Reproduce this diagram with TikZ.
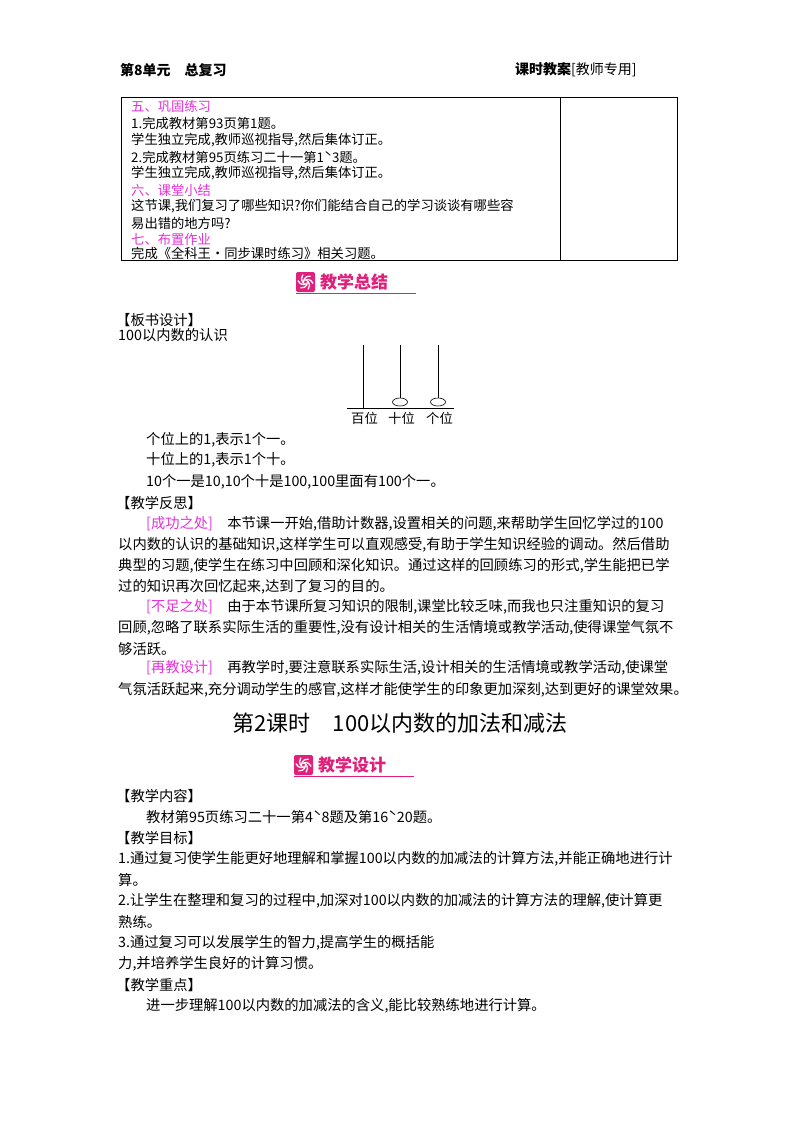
\documentclass[tikz,border=0pt]{standalone}
\usepackage{fontspec}
\newfontfamily\cjk{Noto Sans CJK SC}
\setmainfont{Noto Sans CJK SC}
\definecolor{mag}{HTML}{E632D8}
\definecolor{pk}{HTML}{E0207A}
\tikzset{
 t/.style={anchor=west,inner sep=0,font=\cjk\fontsize{14.3}{15}\selectfont},
 ts/.style={anchor=west,inner sep=0,font=\cjk\fontsize{13.3}{14}\selectfont},
 hd/.style={anchor=west,inner sep=0,font=\cjk\bfseries\fontsize{14}{15}\selectfont},
 ban/.style={anchor=west,inner sep=0,font=\cjk\bfseries\fontsize{17}{18}\selectfont,text=pk},
}
\newcommand{\mybanner}[3]{%
 \fill[pk,rounded corners=2pt] (#1,#2-10) rectangle ++(19,20);
 \foreach \a in {0,60,...,300}{\draw[white,line width=1.3pt] ($(#1+9.5,#2)+(\a:2)$) arc[start angle=\a,end angle=\a+100,radius=6];}
 \node[ban] at (#1+24,#2) {#3};
 \draw[pk,line width=0.6pt] (#1,#2+11) -- (#1+120,#2+11);
}
\usetikzlibrary{calc}
\begin{document}
\begin{tikzpicture}[x=1pt,y=-1pt]
\useasboundingbox[fill=white] (0,0) rectangle (800,1132);
% header
\node[hd] (h1) at (120,70) {第8单元\quad 总复习};
\node[hd] (h2) at (515,70) {课时教案\textmd{[教师专用]}};
% table
\draw[line width=0.8pt] (121,97) rectangle (677,260);
\draw[line width=0.8pt] (560,97) -- (560,260);
\node[ts,text=mag] at (131,106) {五、巩固练习};
\node[ts] at (131,123) {1.完成教材第93页第1题。};
\node[ts] at (131,140) {学生独立完成,教师巡视指导,然后集体订正。};
\node[ts] at (131,157) {2.完成教材第95页练习二十一第1ˋ3题。};
\node[ts] at (131,173) {学生独立完成,教师巡视指导,然后集体订正。};
\node[ts,text=mag] at (131,190) {六、课堂小结};
\node[ts] at (131,206) {这节课,我们复习了哪些知识?你们能结合自己的学习谈谈有哪些容};
\node[ts] at (131,223) {易出错的地方吗?};
\node[ts,text=mag] at (131,239) {七、布置作业};
\node[ts] at (131,253) {完成《全科王·同步课时练习》相关习题。};
% banner 1
\mybanner{296}{282}{教学总结}
\node[t] at (116,320) {【板书设计】};
\node[t] at (118,335) {100以内数的认识};
% abacus
\coordinate (b1) at (347,408); \coordinate (b2) at (454,408);
\draw[line width=0.6pt] (b1) -- (b2);
\draw[line width=0.6pt] (363,345) -- (363,408);
\draw[line width=0.6pt] (400,345) -- (400,398);
\draw[line width=0.6pt] (438,345) -- (438,398);
\draw[line width=0.6pt] (400,402) ellipse[x radius=7.5,y radius=4];
\draw[line width=0.6pt] (438,402) ellipse[x radius=7.5,y radius=4];
\node[ts] at (351,418) {百位};
\node[ts] at (388,418) {十位};
\node[ts] at (426,418) {个位};
% body
\node[t] at (146,440) {个位上的1,表示1个一。};
\node[t] at (146,460) {十位上的1,表示1个十。};
\node[t] at (146,482) {10个一是10,10个十是100,100里面有100个一。};
\node[t] at (116,503) {【教学反思】};
\node[t] at (146,524) {\textcolor{mag}{[成功之处]}\quad 本节课一开始,借助计数器,设置相关的问题,来帮助学生回忆学过的100};
\node[t] at (118,545) {以内数的认识的基础知识,这样学生可以直观感受,有助于学生知识经验的调动。然后借助};
\node[t] at (118,566) {典型的习题,使学生在练习中回顾和深化知识。通过这样的回顾练习的形式,学生能把已学};
\node[t] at (118,587) {过的知识再次回忆起来,达到了复习的目的。};
\node[t] at (146,607) {\textcolor{mag}{[不足之处]}\quad 由于本节课所复习知识的限制,课堂比较乏味,而我也只注重知识的复习};
\node[t] at (118,628) {回顾,忽略了联系实际生活的重要性,没有设计相关的生活情境或教学活动,使得课堂气氛不};
\node[t] at (118,649) {够活跃。};
\node[t] at (146,668) {\textcolor{mag}{[再教设计]}\quad 再教学时,要注意联系实际生活,设计相关的生活情境或教学活动,使课堂};
\node[t] at (118,690) {气氛活跃起来,充分调动学生的感官,这样才能使学生的印象更加深刻,达到更好的课堂效果。};
\node[anchor=center,inner sep=0,font=\cjk\fontsize{22}{24}\selectfont] (title) at (400,723) {第2课时\quad 100以内数的加法和减法};
\mybanner{294}{765}{教学设计}
\node[t] at (116,796) {【教学内容】};
\node[t] at (146,817) {教材第95页练习二十一第4ˋ8题及第16ˋ20题。};
\node[t] at (116,838) {【教学目标】};
\node[t] at (118,859) {1.通过复习使学生能更好地理解和掌握100以内数的加减法的计算方法,并能正确地进行计};
\node[t] at (118,880) {算。};
\node[t] at (118,901) {2.让学生在整理和复习的过程中,加深对100以内数的加减法的计算方法的理解,使计算更};
\node[t] at (118,922) {熟练。};
\node[t] at (118,943) {3.通过复习可以发展学生的智力,提高学生的概括能};
\node[t] at (118,964) {力,并培养学生良好的计算习惯。};
\node[t] at (116,985) {【教学重点】};
\node[t] at (146,1006) {进一步理解100以内数的加减法的含义,能比较熟练地进行计算。};
\end{tikzpicture}
\end{document}
